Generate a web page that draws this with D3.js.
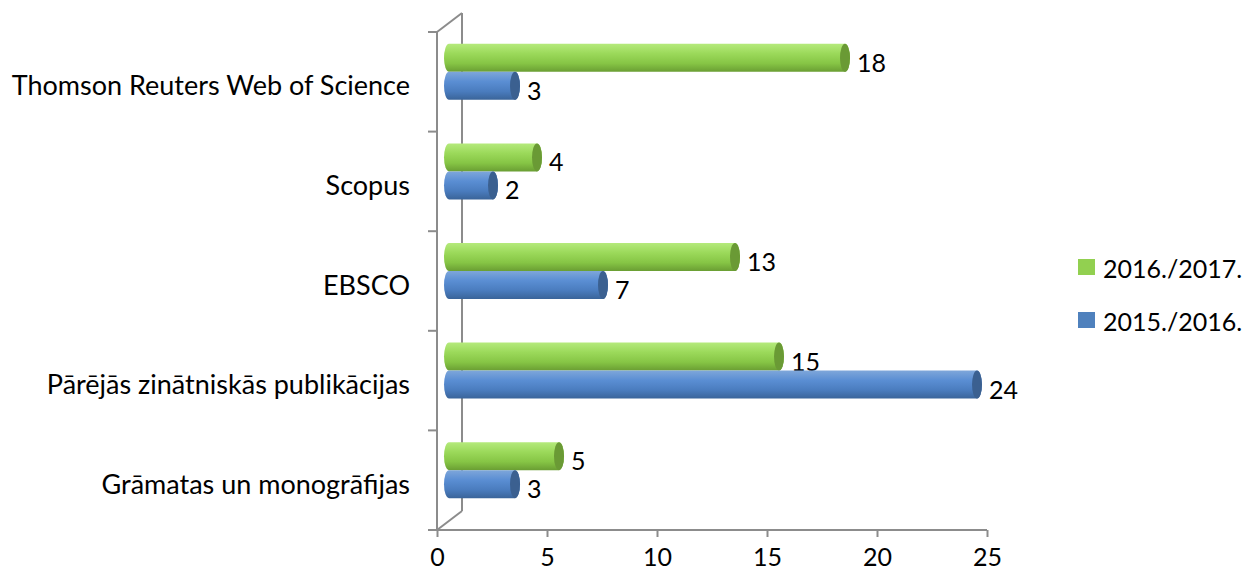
<!DOCTYPE html>
<html>
<head>
<meta charset="utf-8">
<script src="https://cdn.jsdelivr.net/npm/d3@7"></script>
<style>
  body { margin: 0; background: #fff; }
  text { font-family: Lato, "Noto Sans", sans-serif; fill: #000; }
</style>
</head>
<body>
<div id="chart"></div>
<script>
const categories = ["Thomson Reuters Web of Science", "Scopus", "EBSCO", "Pārējās zinātniskās publikācijas", "Grāmatas un monogrāfijas"]
const series = ["2016./2017.", "2015./2016."]
const values2017 = [18, 4, 13, 15, 5]
const values2016 = [3, 2, 7, 24, 3]
const ticks = [0, 5, 10, 15, 20, 25]

const width = 1250, height = 580
const labelSize = 27, numSize = 25
const depth = { dx: 12, dy: -10 }
const barH = 28, capR = 5

const svg = d3.select('#chart').append('svg')
    .attr('width', width)
    .attr('height', height)

const x = d3.scaleLinear().domain([0, 25]).range([437, 987])
const y = d3.scaleBand().domain(categories).range([32, 530])

// gradients for the cylinders
const defs = svg.append('defs')
const palettes = {
    green: { stops: ['#b5ea7c', '#9bd95a', '#86c545', '#6a9e33'], cap: '#6a9a35' },
    blue: { stops: ['#7ea6da', '#5a8ed3', '#4a7cbe', '#3a6499'], cap: '#3b6090' }
}
Object.entries(palettes).forEach(([name, p]) => {
    const g = defs.append('linearGradient').attr('id', 'grad-' + name)
        .attr('x1', 0).attr('y1', 0).attr('x2', 0).attr('y2', 1)
    ;[0, 0.35, 0.7, 1].forEach((o, i) => g.append('stop').attr('offset', o).attr('stop-color', p.stops[i]))
})

// 3d frame
const frame = svg.append('g').attr('stroke', '#8c8c8c').attr('stroke-width', 2).attr('fill', 'none')
frame.append('line').attr('x1', x(0)).attr('x2', x(0)).attr('y1', 32).attr('y2', 530)
frame.append('line').attr('x1', x(0) + 25).attr('x2', x(0) + 25).attr('y1', 13).attr('y2', 511)
frame.append('line').attr('x1', x(0)).attr('x2', x(0) + 25).attr('y1', 32).attr('y2', 13)
frame.append('line').attr('x1', x(0)).attr('x2', x(0) + 25).attr('y1', 530).attr('y2', 511)

// left axis ticks at category boundaries
const bounds = categories.map(c => y(c)).concat([y.range()[1]])
frame.selectAll('.ytick').data(bounds).join('line')
    .attr('x1', x(0) - 9).attr('x2', x(0))
    .attr('y1', d => d).attr('y2', d => d)

// bottom axis
const xAxis = svg.append('g')
    .attr('transform', `translate(0,530)`)
    .call(d3.axisBottom(x).tickValues(ticks).tickSize(7).tickPadding(11).tickSizeOuter(0))
xAxis.select('.domain').attr('stroke', '#8c8c8c').attr('stroke-width', 2).attr('d', `M${x(0) - 9},0H${x(25)}`)
xAxis.selectAll('.tick line').attr('stroke', '#8c8c8c').attr('stroke-width', 2)
xAxis.selectAll('.tick text').attr('font-size', numSize).attr('font-family', 'Lato, sans-serif')

// category labels
svg.append('g').selectAll('text').data(categories).join('text')
    .attr('x', 410)
    .attr('y', d => y(d) + y.bandwidth() / 2 + 3)
    .attr('text-anchor', 'end')
    .attr('dominant-baseline', 'central')
    .attr('font-size', labelSize)
    .text(d => d)

// cylinders
function drawBars(vals, color, offset) {
    const p = palettes[color]
    const g = svg.append('g')
    const rows = categories.map((c, i) => ({ c, v: vals[i] }))
    const top = d => y(d.c) + y.bandwidth() / 2 + depth.dy + offset
    const x0 = x(0) + depth.dx, xe = d => x(d.v) + depth.dx
    g.selectAll('path.body').data(rows).join('path')
        .attr('fill', `url(#grad-${color})`)
        .attr('d', d => {
            const t = top(d), b = t + barH
            return `M${x0},${t} L${xe(d)},${t} A${capR},${barH / 2} 0 0 1 ${xe(d)},${b} L${x0},${b} A${capR},${barH / 2} 0 0 1 ${x0},${t} Z`
        })
    g.selectAll('ellipse').data(rows).join('ellipse')
        .attr('cx', xe).attr('cy', d => top(d) + barH / 2)
        .attr('rx', capR).attr('ry', barH / 2)
        .attr('fill', p.cap)
    g.selectAll('text').data(rows).join('text')
        .attr('x', d => xe(d) + capR + 7)
        .attr('y', d => top(d) + barH / 2 + 4)
        .attr('dominant-baseline', 'central')
        .attr('font-size', numSize)
        .text(d => d.v)
}
drawBars(values2017, 'green', -barH)
drawBars(values2016, 'blue', 0)

// legend
const legend = svg.append('g').selectAll('g').data(series).join('g')
    .attr('transform', (d, i) => `translate(1078, ${259 + i * 53})`)
legend.append('rect').attr('width', 17).attr('height', 16)
    .attr('fill', (d, i) => i === 0 ? '#92d050' : '#4f81bd')
legend.append('text').attr('x', 25).attr('y', 9)
    .attr('dominant-baseline', 'central').attr('font-size', numSize)
    .text(d => d)
</script>
</body>
</html>
